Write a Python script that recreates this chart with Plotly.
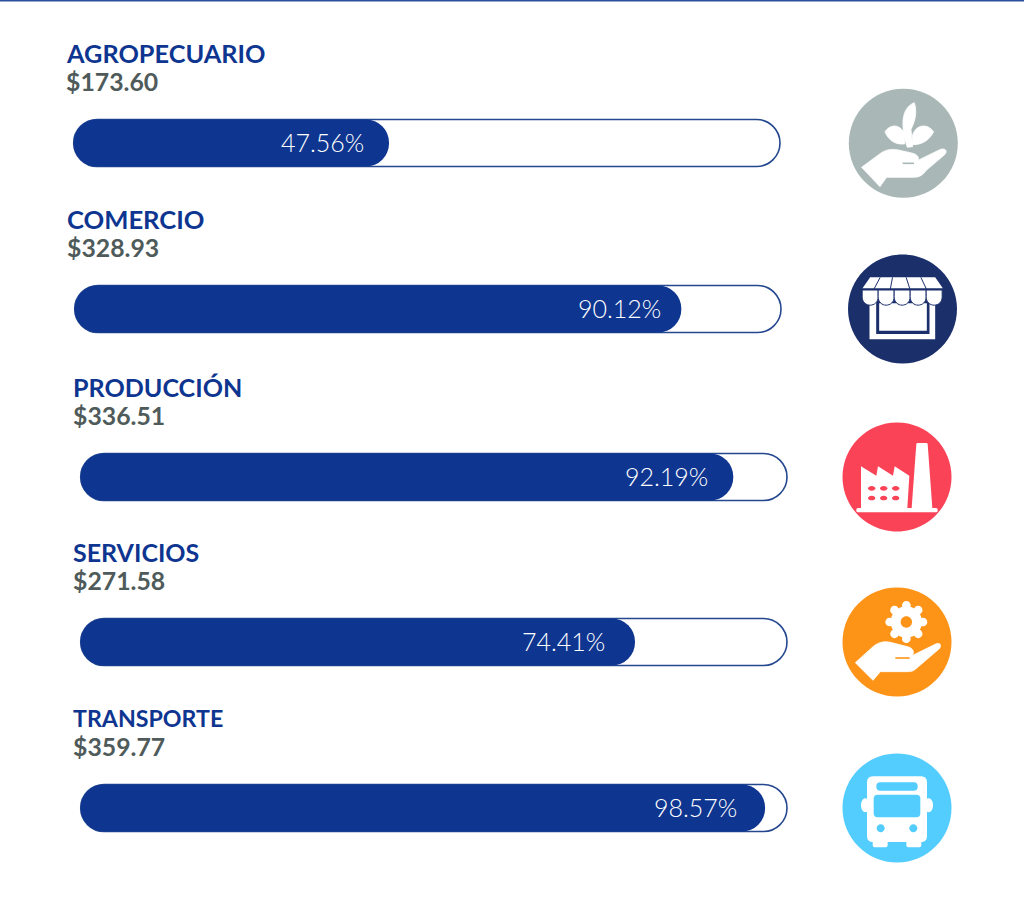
import math
import plotly.graph_objects as go

# ---------- data ----------
categories = ["AGROPECUARIO", "COMERCIO", "PRODUCCIÓN", "SERVICIOS", "TRANSPORTE"]
amount_labels = ["$173.60", "$328.93", "$336.51", "$271.58", "$359.77"]
percent_labels = ["47.56%", "90.12%", "92.19%", "74.41%", "98.57%"]
# drawn length of each fill, as % of its track, measured on the picture
fill_lengths = [44.6, 85.8, 92.3, 78.4, 96.8]
track_lengths = [99.9, 99.9, 99.9, 99.9, 99.9]

# ---------- layout constants (pixels) ----------
W, H = 1024, 908
PX_PER_PCT = 7.07
row_y = [143, 309, 477, 642, 808]
bar_left = [73.7, 74.7, 80.7, 80.7, 80.7]
title_x = [64, 65, 71, 71, 71]
title_y = [53, 219, 387, 552, 718]
amount_y = [81.5, 247.5, 415.5, 580.5, 746.5]
pct_right = [366, 663, 710, 607, 739]
title_size = [25.3, 25.6, 25.1, 25, 23.2]

BLUE = "#0e3590"
LINE = "#24478f"
GREY = "#4f5b5a"
bases = [v / PX_PER_PCT for v in bar_left]

fig = go.Figure()
fig.add_trace(go.Bar(
    y=row_y, x=track_lengths, base=bases, orientation="h", width=47,
    marker=dict(color="white", line=dict(color=LINE, width=1.6), cornerradius=24),
    hoverinfo="skip", showlegend=False))
fig.add_trace(go.Bar(
    y=row_y, x=fill_lengths, base=bases, orientation="h", width=47,
    marker=dict(color=BLUE, line=dict(width=0), cornerradius=24),
    hoverinfo="skip", showlegend=False))

# ---------- icon helpers: coordinates in 3x-zoom units around an icon centre ----------
def tr(d, cx, cy, ox, oy, s=1 / 3):
    out, i, tok = [], 0, d.split()
    while i < len(tok):
        if tok[i].isalpha():
            out.append(tok[i]); i += 1
        else:
            out.append(f"{cx + (float(tok[i]) - ox) * s:.2f},{cy + (float(tok[i + 1]) - oy) * s:.2f}")
            i += 2
    return " ".join(out)

def circ(x, y, r):
    k = 0.5523 * r
    return (f"M {x-r} {y} C {x-r} {y-k} {x-k} {y-r} {x} {y-r} C {x+k} {y-r} {x+r} {y-k} {x+r} {y} "
            f"C {x+r} {y+k} {x+k} {y+r} {x} {y+r} C {x-k} {y+r} {x-r} {y+k} {x-r} {y} Z")

def ell(x, y, rx, ry):
    k = 0.5523
    return (f"M {x-rx} {y} C {x-rx} {y-k*ry} {x-k*rx} {y-ry} {x} {y-ry} C {x+k*rx} {y-ry} {x+rx} {y-k*ry} {x+rx} {y} "
            f"C {x+rx} {y+k*ry} {x+k*rx} {y+ry} {x} {y+ry} C {x-k*rx} {y+ry} {x-rx} {y+k*ry} {x-rx} {y} Z")

def rrect(x0, y0, x1, y1, r):
    return (f"M {x0+r} {y0} L {x1-r} {y0} Q {x1} {y0} {x1} {y0+r} L {x1} {y1-r} Q {x1} {y1} {x1-r} {y1} "
            f"L {x0+r} {y1} Q {x0} {y1} {x0} {y1-r} L {x0} {y0+r} Q {x0} {y0} {x0+r} {y0} Z")

shapes = []
def add(d, color, line=None, lw=0):
    shapes.append(dict(type="path", path=d, xref="x2", yref="y2", fillcolor=color, layer="above",
                       line=dict(color=line or color, width=lw)))

def stroke(d, color, lw):
    add(d, "rgba(0,0,0,0)", color, lw)

def disc(cx, cy, r, color):
    add(tr(circ(cx, cy, r), cx, cy, cx, cy, 1), color)

# 1. plant in hand
c, o = (903.3, 143.3), (220, 190)
GR = "#a9b8b6"
disc(*c, 54.5, GR)
for d in [
    "M 95 262 L 145 225 C 165 208 185 206 205 210 L 245 219 C 268 224 268 238 262 242 L 332 208 C 350 204 352 216 344 224 L 290 270 C 278 286 268 292 250 292 L 170 292 L 150 320 Z",
    "M 232 202 C 212 140 212 85 253 68 C 264 100 252 130 243 148 L 248 200 Z",
    "M 165 155 C 185 128 215 135 224 165 L 224 192 C 195 195 175 180 165 155 Z",
    "M 311 155 C 290 128 258 135 248 165 L 246 194 C 278 195 298 180 311 155 Z",
]:
    add(tr(d, *c, *o), "white", "white", 0.8)
stroke(tr("M 218 250 L 252 250", *c, *o), GR, 1.6)

# 2. shop
c, o = (902.5, 309), (217, 687)
NV = "#1b2f6b"
disc(*c, 54.5, NV)
add(tr("M 118 660 L 315 660 L 315 778 L 118 778 Z", *c, *o), "white")
add(tr("M 138 660 L 298 660 L 298 762 L 138 762 Z", *c, *o), NV)
add(tr("M 147 670 L 290 670 L 290 752 L 147 752 Z", *c, *o), "white")
for sx in [120, 168, 216, 264, 312]:
    add(tr(f"M {sx-24} 630 L {sx+24} 630 L {sx+24} 650 C {sx+24} 684 {sx-24} 684 {sx-24} 650 Z", *c, *o), "white", NV, 1.0)
add(tr("M 120 592 L 315 592 L 338 625 L 97 625 Z", *c, *o), "white")
for a, b in [(150, 130), (187, 180), (228, 240), (272, 290)]:
    stroke(tr(f"M {a} 592 L {b} 630", *c, *o), NV, 1.0)

# 3. factory
c, o = (897, 477), (200, 187)
RD = "#fb4358"
disc(*c, 54.5, RD)
add(tr("M 258 88 Q 258 85 262 85 L 288 85 Q 292 85 292 88 L 306 280 L 244 280 Z", *c, *o), "white")
add(tr("M 92 155 L 138 183 L 143 155 L 188 183 L 193 155 L 237 183 L 231 280 L 92 280 Z", *c, *o), "white")
add(tr(rrect(78, 280, 322, 293, 5), *c, *o), "white")
for wy in [221, 250]:
    for wx in [124, 160, 196]:
        add(tr(ell(wx, wy, 11, 7), *c, *o), RD)

# 4. gear in hand
c, o = (897, 642), (200, 683)
OR = "#fd9317"
disc(*c, 54.5, OR)
add(tr(circ(228, 623, 47), *c, *o), "white")
for n in range(8):
    a = n * math.pi / 4
    add(tr(circ(round(228 + 50 * math.cos(a), 1), round(623 + 50 * math.sin(a), 1), 13), *c, *o), "white")
add(tr(circ(228, 623, 17), *c, *o), OR)
add(tr("M 75 745 L 128 697 C 145 682 165 680 180 684 L 232 697 C 252 702 252 718 245 724 L 318 688 C 332 684 334 696 326 704 L 255 765 C 248 771 240 772 230 772 L 150 772 L 128 798 Z", *c, *o), "white", "white", 0.8)
stroke(tr("M 195 731 L 238 731", *c, *o), OR, 1.6)

# 5. bus
c, o = (897, 808), (200, 190)
SK = "#52cdfd"
disc(*c, 54.5, SK)
add(tr(ell(105, 182, 13, 21), *c, *o), "white")
add(tr(ell(295, 182, 13, 21), *c, *o), "white")
add(tr(rrect(127, 275, 172, 308, 8), *c, *o), "white")
add(tr(rrect(228, 275, 273, 308, 8), *c, *o), "white")
add(tr(rrect(110, 95, 290, 292, 18), *c, *o), "white")
add(tr(rrect(138, 113, 262, 138, 12), *c, *o), SK)
add(tr(rrect(130, 150, 270, 218, 12), *c, *o), SK)
add(tr(circ(151, 251, 12), *c, *o), SK)
add(tr(circ(249, 251, 12), *c, *o), SK)

# top rule
shapes.append(dict(type="line", xref="x2", yref="y2", x0=0, x1=W, y0=0.7, y1=0.7, layer="above",
                   line=dict(color="#2c4f9e", width=1.6)))

# ---------- text ----------
ann = []
for i, name in enumerate(categories):
    ann.append(dict(xref="x2", yref="y2", x=title_x[i], y=title_y[i], text=name, showarrow=False,
                    xanchor="left", yanchor="middle",
                    font=dict(family="Lato", size=title_size[i], color=BLUE, weight=700)))
    ann.append(dict(xref="x2", yref="y2", x=title_x[i], y=amount_y[i], text=amount_labels[i], showarrow=False,
                    xanchor="left", yanchor="middle",
                    font=dict(family="Lato", size=24.8, color=GREY, weight=700)))
    ann.append(dict(xref="x2", yref="y2", x=pct_right[i], y=row_y[i] - 1, text=percent_labels[i], showarrow=False,
                    xanchor="right", yanchor="middle",
                    font=dict(family="Lato", size=25, color="white", weight=300)))

fig.update_layout(
    width=W, height=H, margin=dict(l=0, r=0, t=0, b=0), autosize=False,
    paper_bgcolor="white", plot_bgcolor="white", barmode="overlay", showlegend=False,
    xaxis=dict(range=[0, W / PX_PER_PCT], domain=[0, 1], visible=False, fixedrange=True),
    yaxis=dict(range=[H, 0], domain=[0, 1], visible=False, fixedrange=True),
    xaxis2=dict(range=[0, W], domain=[0, 1], visible=False, overlaying="x", anchor="y2", fixedrange=True),
    yaxis2=dict(range=[H, 0], domain=[0, 1], visible=False, overlaying="y", anchor="x2", fixedrange=True),
    shapes=shapes, annotations=ann,
)
fig.write_html("out.html", config=dict(displayModeBar=False),
               post_script="document.body.style.margin='0';document.body.style.overflow='hidden';")
